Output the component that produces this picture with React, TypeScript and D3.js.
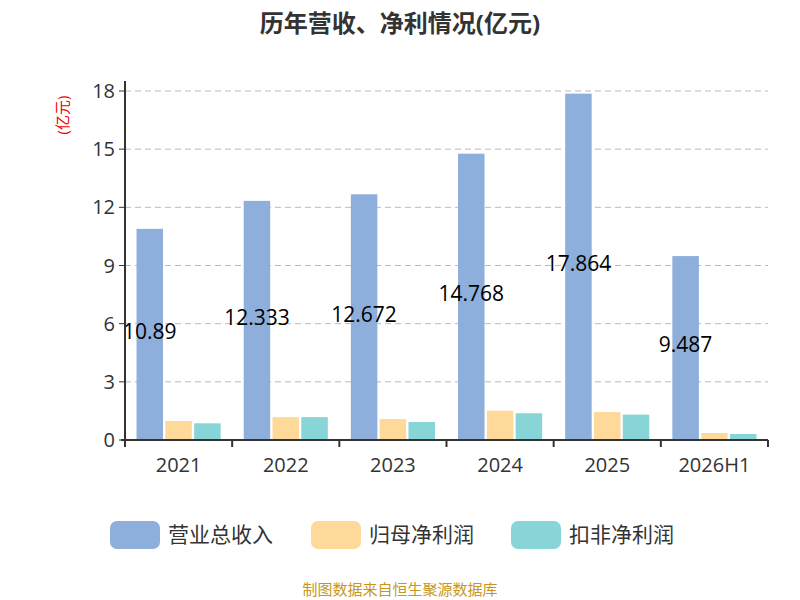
import React from "react";
import * as d3 from "d3";

const categories = ["2021", "2022", "2023", "2024", "2025", "2026H1"];
const revenue = [10.89, 12.333, 12.672, 14.768, 17.864, 9.487];
const netProfit = [0.98, 1.18, 1.08, 1.51, 1.44, 0.36];
const deductedProfit = [0.86, 1.18, 0.93, 1.38, 1.31, 0.31];
const seriesNames = ["营业总收入", "归母净利润", "扣非净利润"];
const colors = ["#8eaedb", "#ffd99a", "#88d5d8"];
const yTicks = [0, 3, 6, 9, 12, 15, 18];

export default function App() {
  const W = 800, H = 600;
  const left = 125, right = 768, top = 91, bottom = 440;
  const x = d3.scaleBand().domain(categories).range([left, right]);
  const y = d3.scaleLinear().domain([0, 18]).range([bottom, top]);
  const inner = d3.scaleBand().domain(["0", "1", "2"]).range([0, x.bandwidth()]).paddingInner(0.08).paddingOuter(0.4);
  const series = [revenue, netProfit, deductedProfit];
  const font = "'Open Sans', 'Noto Sans CJK SC', sans-serif";
  return (
    <svg width={W} height={H} style={{ position: "absolute", left: 0, top: 0 }} fontFamily={font}>
      <rect width={W} height={H} fill="#fff" />
      <text x={400} y={32} textAnchor="middle" fontSize={24} fontWeight="bold" fill="#333">历年营收、净利情况(亿元)</text>
      <text transform="translate(68,115) rotate(-90)" textAnchor="middle" fontSize={15} fill="#e00">(亿元)</text>
      {yTicks.map(t => (
        <g key={t}>
          {t > 0 && <line x1={left} x2={right} y1={y(t)} y2={y(t)} stroke="#bbb" strokeDasharray="6,4" />}
          <line x1={left - 6} x2={left} y1={y(t)} y2={y(t)} stroke="#333" />
          <text x={left - 10} y={y(t)} dy="0.35em" textAnchor="end" fontSize={20} fill="#333">{t}</text>
        </g>
      ))}
      {categories.map((c, i) => (
        <g key={c}>
          {series.map((s, k) => (
            <rect key={k} x={x(c)! + inner(String(k))!} width={inner.bandwidth()} y={y(s[i])} height={bottom - y(s[i])} fill={colors[k]} />
          ))}
          <text x={x(c)! + x.bandwidth() / 2} y={472} textAnchor="middle" fontSize={20} fill="#333">{c}</text>
        </g>
      ))}
      {categories.map((c, i) => (
        <text key={c} x={x(c)! + inner("0")! + inner.bandwidth() / 2} y={y(revenue[i] / 2) - 3} dy="0.35em" textAnchor="middle" fontSize={21} fill="#000">{revenue[i]}</text>
      ))}
      <line x1={left} x2={left} y1={top - 10} y2={bottom} stroke="#333" strokeWidth={2} />
      <line x1={left - 4} x2={right} y1={bottom} y2={bottom} stroke="#333" strokeWidth={2} />
      {categories.concat([""]).map((c, i) => (
        <line key={i} x1={left + i * x.step()} x2={left + i * x.step()} y1={bottom} y2={bottom + 7} stroke="#333" strokeWidth={2} />
      ))}
      {seriesNames.map((n, k) => {
        const lx = [110, 311, 511][k];
        return (
          <g key={n}>
            <rect x={lx} y={521} width={50} height={28} rx={7} fill={colors[k]} />
            <text x={lx + 58} y={535} dy="0.35em" fontSize={21} fill="#333">{n}</text>
          </g>
        );
      })}
      <text x={400} y={595} textAnchor="middle" fontSize={15} fill="#c8961e">制图数据来自恒生聚源数据库</text>
    </svg>
  );
}
